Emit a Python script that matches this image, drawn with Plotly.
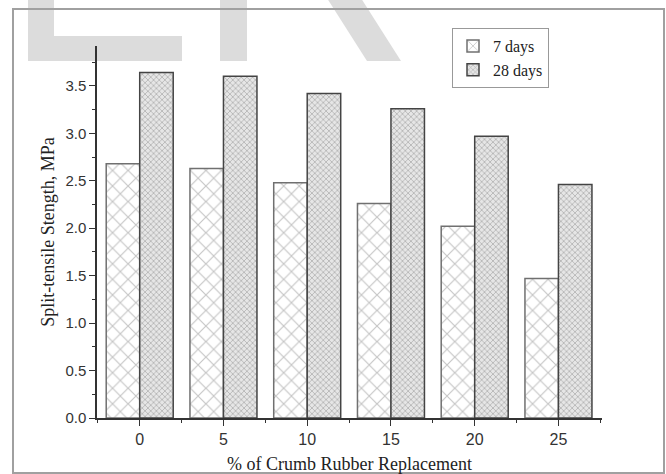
import plotly.graph_objects as go

replacement = [0, 5, 10, 15, 20, 25]
days7 = [2.68, 2.63, 2.48, 2.26, 2.02, 1.47]
days28 = [3.64, 3.60, 3.42, 3.26, 2.97, 2.46]
series_names = ["7 days", "28 days"]
x_title = "% of Crumb Rubber Replacement"
y_title = "Split-tensile Stength, MPa"

W, H = 666, 474
L, R, T, B = 97, 64, 46, 56
pw, ph = W - L - R, H - T - B


def px(x):
    return (x - L) / pw


def py(y):
    return (H - B - y) / ph


fig = go.Figure()
fig.add_trace(go.Bar(
    x=replacement, y=days7, name=series_names[0], width=2, offset=-2,
    marker=dict(color="white", line=dict(color="#707070", width=1.5),
                pattern=dict(shape="x", size=11, solidity=0.2, fgcolor="#8c8c8c", bgcolor="white")),
))
fig.add_trace(go.Bar(
    x=replacement, y=days28, name=series_names[1], width=2, offset=0,
    marker=dict(color="#d8d8d8", line=dict(color="#444444", width=1.5),
                pattern=dict(shape="x", size=4, solidity=0.35, fgcolor="#7a7a7a", bgcolor="#e6e6e6")),
))

wm = "#dcdcdc"
shapes = [
    dict(type="rect", xref="paper", yref="paper", x0=px(28), x1=px(54), y0=py(-5), y1=py(61),
         fillcolor=wm, line_width=0, layer="below"),
    dict(type="rect", xref="paper", yref="paper", x0=px(28), x1=px(182), y0=py(36), y1=py(61),
         fillcolor=wm, line_width=0, layer="below"),
    dict(type="rect", xref="paper", yref="paper", x0=px(220), x1=px(247), y0=py(-5), y1=py(61),
         fillcolor=wm, line_width=0, layer="below"),
    dict(type="path", xref="paper", yref="paper",
         path=f"M {px(325)} {py(-5)} L {px(359)} {py(-5)} L {px(401)} {py(61)} L {px(367)} {py(61)} Z",
         fillcolor=wm, line_width=0, layer="below"),
    dict(type="rect", xref="paper", yref="paper", x0=px(13), x1=px(664), y0=py(9), y1=py(473),
         fillcolor="rgba(0,0,0,0)", line=dict(color="#a0a0a0", width=2), layer="below"),
]

fig.update_layout(
    width=W, height=H,
    margin=dict(l=L, r=R, t=T, b=B, autoexpand=False),
    paper_bgcolor="white", plot_bgcolor="rgba(0,0,0,0)",
    barmode="overlay",
    shapes=shapes,
    showlegend=True,
    legend=dict(x=px(452), y=py(28), xanchor="left", yanchor="top",
                bgcolor="white", bordercolor="#999999", borderwidth=1,
                font=dict(family="Liberation Serif", size=16, color="#222"),
                tracegroupgap=0, itemwidth=30),
    xaxis=dict(range=[-2.55, 27.6], tickvals=replacement, ticks="outside", ticklen=6,
               tickwidth=1.3, tickcolor="#333", showline=True, linecolor="#333", linewidth=1.5,
               showgrid=False, zeroline=False, automargin=False,
               minor=dict(ticks="outside", ticklen=3, dtick=2.5, tick0=0, tickcolor="#333", showgrid=False),
               tickfont=dict(family="Liberation Sans", size=16, color="#333"),
               title=dict(text=x_title, font=dict(family="Liberation Serif", size=18, color="#222"), standoff=12)),
    yaxis=dict(range=[0, 3.92], dtick=0.5, tickformat=".1f", ticks="outside", ticklen=6,
               tickwidth=1.3, tickcolor="#333", showline=True, linecolor="#333", linewidth=1.5,
               showgrid=False, zeroline=False, automargin=False,
               minor=dict(ticks="outside", ticklen=3, dtick=0.25, tick0=0, tickcolor="#333", showgrid=False),
               tickfont=dict(family="Liberation Sans", size=15, color="#333"),
               title=dict(text=y_title, font=dict(family="Liberation Serif", size=18, color="#222"), standoff=6)),
)

fig.write_html("out.html", config={"displayModeBar": False},
               post_script="document.body.style.margin='0px';")
